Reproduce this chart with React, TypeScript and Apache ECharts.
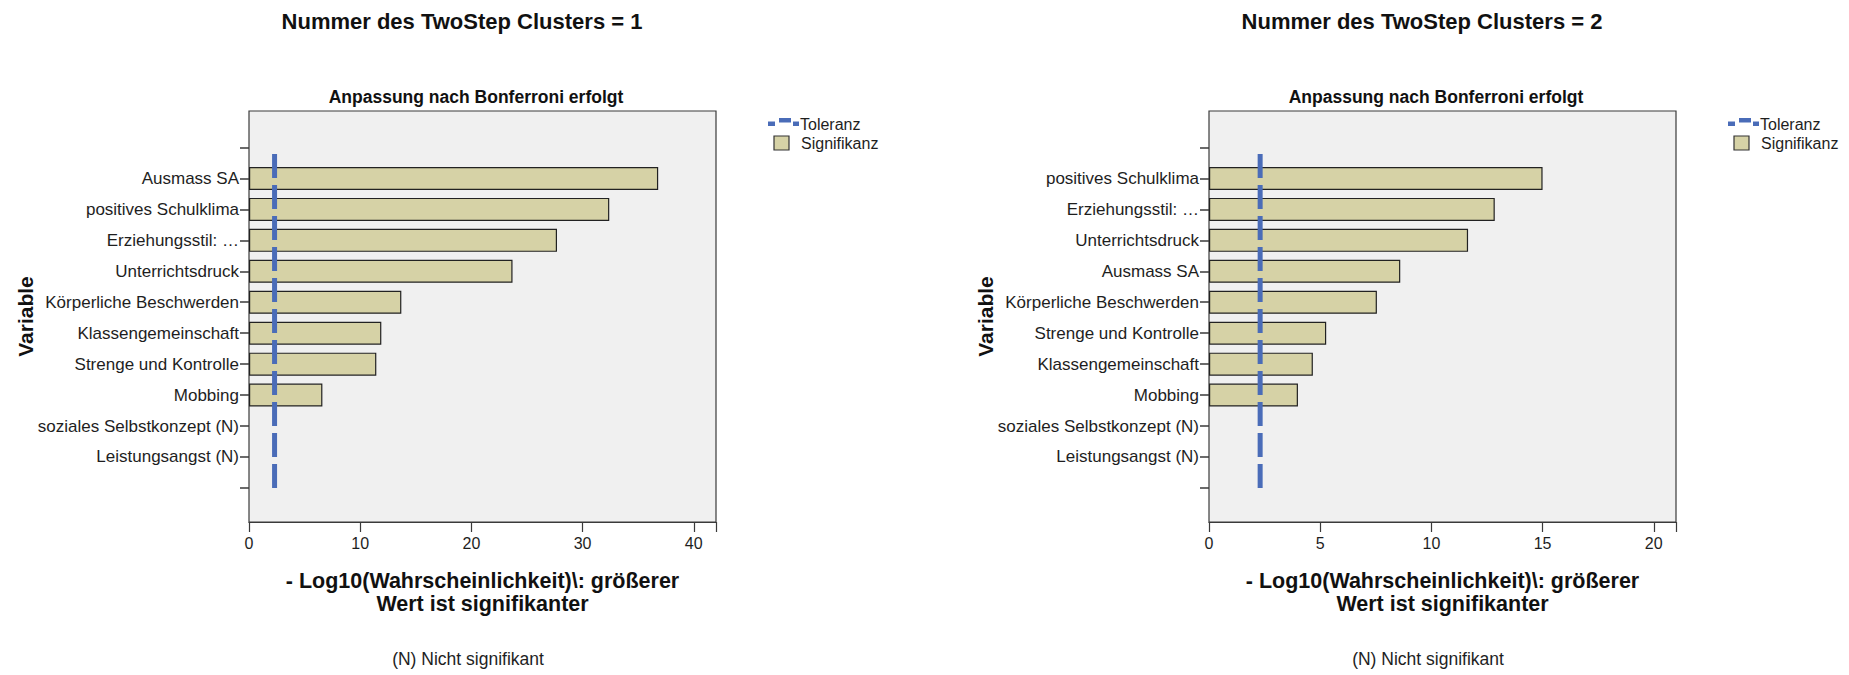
import React, { useEffect, useRef } from "react";
import * as echarts from "echarts";

// ---- data ----
const panelTitles = ["Nummer des TwoStep Clusters = 1", "Nummer des TwoStep Clusters = 2"];
const subtitleText = "Anpassung nach Bonferroni erfolgt";
const yAxisName = "Variable";
const xAxisName = "- Log10(Wahrscheinlichkeit)\\: größerer\nWert ist signifikanter";
const footnote = "(N) Nicht signifikant";
const legendLine = "Toleranz";
const legendBar = "Signifikanz";

const categories1 = [
  "Ausmass SA",
  "positives Schulklima",
  "Erziehungsstil: …",
  "Unterrichtsdruck",
  "Körperliche Beschwerden",
  "Klassengemeinschaft",
  "Strenge und Kontrolle",
  "Mobbing",
  "soziales Selbstkonzept (N)",
  "Leistungsangst (N)",
];
const values1: (number | null)[] = [36.8, 32.4, 27.7, 23.7, 13.7, 11.9, 11.45, 6.6, null, null];

const categories2 = [
  "positives Schulklima",
  "Erziehungsstil: …",
  "Unterrichtsdruck",
  "Ausmass SA",
  "Körperliche Beschwerden",
  "Strenge und Kontrolle",
  "Klassengemeinschaft",
  "Mobbing",
  "soziales Selbstkonzept (N)",
  "Leistungsangst (N)",
];
const values2: (number | null)[] = [15.0, 12.85, 11.65, 8.6, 7.55, 5.27, 4.67, 4.0, null, null];

const tolerance1 = 2.3;
const tolerance2 = 2.3;
const xTicks1 = [0, 10, 20, 30, 40];
const xTicks2 = [0, 5, 10, 15, 20];
const xMax1 = 42;
const xMax2 = 21;

// ---- layout / style ----
const FONT = "'Liberation Sans', Arial, Helvetica, sans-serif";
const BAR_FILL = "#d6d2a6";
const LINE_BLUE = "#4a6cb8";
const TEXT = "#1e1e1e";

const panels = [
  { cats: categories1, vals: values1, tol: tolerance1, ticks: xTicks1, max: xMax1, title: panelTitles[0], dx: 0 },
  { cats: categories2, vals: values2, tol: tolerance2, ticks: xTicks2, max: xMax2, title: panelTitles[1], dx: 960 },
];

const BOX_LEFT = 249;
const BOX_W = 467;
const BOX_TOP = 111;
const BOX_H = 411;
const BAR_TOP = 132;
const BAR_H = 371.4;

function buildOption() {
  const grid: any[] = [];
  const xAxis: any[] = [];
  const yAxis: any[] = [];
  const series: any[] = [];
  const graphic: any[] = [];

  panels.forEach((p, i) => {
    const left = BOX_LEFT + p.dx;
    const gBox = i * 2;
    const gBar = i * 2 + 1;
    grid.push({
      left,
      top: BOX_TOP,
      width: BOX_W,
      height: BOX_H,
      show: true,
      backgroundColor: "#f0f0f0",
      borderColor: "#3a3a3a",
      borderWidth: 1.2,
      containLabel: false,
    });
    grid.push({ left, top: BAR_TOP, width: BOX_W, height: BAR_H, containLabel: false });

    const padded = ["", ...p.cats, " "].slice().reverse();
    const barData = [null, ...p.vals, null].slice().reverse().map((v) => (v == null ? "-" : v));

    xAxis.push({
      gridIndex: gBox,
      type: "value",
      min: 0,
      max: p.max,
      interval: p.ticks[1] - p.ticks[0],
      axisLine: { show: true, lineStyle: { color: "#3a3a3a", width: 1.2 } },
      axisTick: { show: true, length: 10, lineStyle: { color: "#3a3a3a", width: 1.2 } },
      axisLabel: {
        fontSize: 16,
        color: TEXT,
        margin: 13,
        fontFamily: FONT,
        formatter: (v: number) => (p.ticks.indexOf(v) >= 0 ? String(v) : ""),
      },
      splitLine: { show: false },
      name: xAxisName,
      nameLocation: "middle",
      nameGap: 47,
      nameTextStyle: { fontSize: 21.5, fontWeight: "bold", color: "#111", lineHeight: 23, fontFamily: FONT },
    });
    yAxis.push({
      gridIndex: gBox,
      type: "value",
      min: 0,
      max: 1,
      axisLine: { show: false },
      axisTick: { show: false },
      axisLabel: { show: false },
      splitLine: { show: false },
      name: yAxisName,
      nameLocation: "middle",
      nameGap: 213,
      nameTextStyle: { fontSize: 21, fontWeight: "bold", color: "#111", fontFamily: FONT },
    });
    xAxis.push({ gridIndex: gBar, type: "value", min: 0, max: p.max, show: false });
    yAxis.push({
      gridIndex: gBar,
      type: "category",
      data: padded,
      axisLine: { show: false },
      axisTick: { show: true, alignWithLabel: true, interval: 0, length: 9, lineStyle: { color: "#3a3a3a", width: 1.5 } },
      axisLabel: { interval: 0, fontSize: 17, color: TEXT, margin: 10, fontFamily: FONT, padding: [5, 0, 0, 0] },
      splitLine: { show: false },
    });

    series.push({
      type: "bar",
      name: legendBar,
      xAxisIndex: gBar,
      yAxisIndex: gBar,
      data: barData,
      barWidth: 23,
      itemStyle: { color: BAR_FILL, borderColor: "#222", borderWidth: 1.2 },
      z: 2,
    });
    series.push({
      type: "line",
      name: legendLine,
      xAxisIndex: gBar,
      yAxisIndex: gBar,
      data: [
        [p.tol, 0],
        [p.tol, padded.length - 1],
      ],
      symbol: "none",
      lineStyle: { color: LINE_BLUE, width: 5, type: [24, 7], cap: "butt" },
      z: 5,
    });

    // titles
    graphic.push({
      type: "text",
      x: 462 + p.dx,
      y: 21,
      style: { text: p.title, font: `bold 22px ${FONT}`, fill: "#111", textAlign: "center", textVerticalAlign: "middle" },
    });
    graphic.push({
      type: "text",
      x: 476 + p.dx,
      y: 97,
      style: { text: subtitleText, font: `bold 17.5px ${FONT}`, fill: "#111", textAlign: "center", textVerticalAlign: "middle" },
    });
    graphic.push({
      type: "text",
      x: 468 + p.dx,
      y: 659,
      style: { text: footnote, font: `17.5px ${FONT}`, fill: TEXT, textAlign: "center", textVerticalAlign: "middle" },
    });
    // legend
    const lx = 768 + p.dx;
    graphic.push({ type: "rect", shape: { x: lx, y: 121.5, width: 7, height: 4.5 }, style: { fill: LINE_BLUE } });
    graphic.push({ type: "rect", shape: { x: lx + 11, y: 118, width: 12, height: 4.5 }, style: { fill: LINE_BLUE } });
    graphic.push({ type: "rect", shape: { x: lx + 25, y: 121.5, width: 6, height: 4.5 }, style: { fill: LINE_BLUE } });
    graphic.push({
      type: "text",
      x: lx + 32,
      y: 124,
      style: { text: legendLine, font: `16px ${FONT}`, fill: TEXT, textAlign: "left", textVerticalAlign: "middle" },
    });
    graphic.push({
      type: "rect",
      shape: { x: lx + 6, y: 136, width: 15, height: 14 },
      style: { fill: BAR_FILL, stroke: "#333", lineWidth: 1.2 },
    });
    graphic.push({
      type: "text",
      x: lx + 33,
      y: 143,
      style: { text: legendBar, font: `16px ${FONT}`, fill: TEXT, textAlign: "left", textVerticalAlign: "middle" },
    });
  });

  return {
    animation: false,
    backgroundColor: "#ffffff",
    textStyle: { fontFamily: FONT },
    grid,
    xAxis,
    yAxis,
    series,
    graphic,
  };
}

export default function App() {
  const ref = useRef<HTMLDivElement | null>(null);
  useEffect(() => {
    if (!ref.current) return;
    const chart = echarts.init(ref.current, undefined, { renderer: "svg" });
    chart.setOption(buildOption() as any);
    return () => chart.dispose();
  }, []);
  return (
    <div
      ref={ref}
      style={{ position: "fixed", left: 0, top: 0, width: 1849, height: 675, background: "#fff" }}
    />
  );
}
